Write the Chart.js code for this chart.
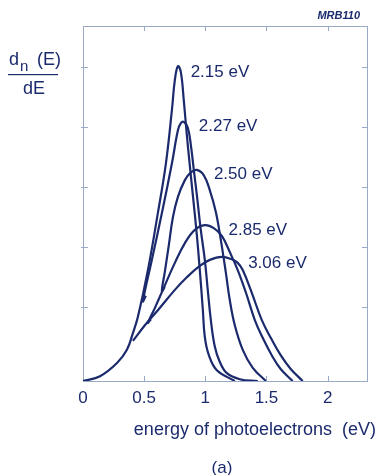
<!DOCTYPE html>
<html>
<head>
<meta charset="utf-8">
<script src="https://cdn.jsdelivr.net/npm/chart.js@4/dist/chart.umd.min.js"></script>
<style>
  html, body { margin: 0; padding: 0; background: #fff; }
  #wrap { width: 379px; height: 475px; position: relative; }
</style>
</head>
<body>
<div id="wrap"><canvas id="chart"></canvas></div>
<script>
// energy (eV) / dn/dE (arb. units)
const curveNames = ['2.15 eV', '2.27 eV', '2.50 eV', '2.85 eV', '3.06 eV'];

const e215 = [0, 0.139, 0.278, 0.359, 0.408, 0.449, 0.531, 0.612, 0.678, 0.727, 0.751, 0.776, 0.80, 0.824, 0.849, 0.873, 0.898, 0.931, 0.955, 0.98, 0.996, 1.029, 1.094, 1.241];
const n215 = [0, 0.08, 0.30, 0.52, 0.80, 1.07, 1.85, 2.80, 3.63, 4.52, 5.02, 5.25, 5.15, 4.68, 4.10, 3.60, 3.10, 2.43, 1.85, 1.18, 0.73, 0.43, 0.18, 0];

const e227 = [0.514, 0.49, 0.563, 0.645, 0.727, 0.776, 0.80, 0.824, 0.857, 0.882, 0.906, 0.931, 0.963, 0.996, 1.02, 1.045, 1.078, 1.118, 1.176, 1.282, 1.429];
const n227 = [1.42, 1.33, 2.02, 2.80, 3.63, 4.18, 4.30, 4.32, 4.22, 3.93, 3.52, 3.10, 2.52, 2.02, 1.52, 1.02, 0.57, 0.32, 0.13, 0.03, 0];

const e250 = [0.669, 0.645, 0.669, 0.702, 0.735, 0.776, 0.833, 0.882, 0.931, 0.988, 1.037, 1.086, 1.127, 1.167, 1.20, 1.241, 1.306, 1.388, 1.494];
const n250 = [1.57, 1.50, 1.82, 2.27, 2.73, 3.07, 3.35, 3.48, 3.52, 3.43, 3.18, 2.82, 2.35, 1.82, 1.35, 0.93, 0.52, 0.22, 0];

const e285 = [0.555, 0.531, 0.588, 0.653, 0.751, 0.833, 0.914, 0.996, 1.069, 1.135, 1.20, 1.265, 1.331, 1.404, 1.469, 1.543, 1.616, 1.714];
const n285 = [1.03, 0.97, 1.22, 1.52, 1.97, 2.30, 2.52, 2.60, 2.55, 2.42, 2.15, 1.85, 1.48, 1.02, 0.72, 0.43, 0.20, 0];

const e306 = [0.408, 0.506, 0.612, 0.751, 0.849, 0.955, 1.037, 1.135, 1.216, 1.265, 1.306, 1.380, 1.461, 1.535, 1.616, 1.698, 1.796];
const n306 = [0.67, 0.93, 1.18, 1.52, 1.73, 1.92, 2.02, 2.07, 2.03, 1.97, 1.85, 1.47, 1.02, 0.72, 0.43, 0.20, 0];

const xTickValues = [0, 0.5, 1, 1.5, 2];
const yTickValues = [1.23, 2.23, 3.23, 4.23, 5.23];

// where the photon-energy labels sit (data coords)
const labelX = [0.88, 0.947, 1.07, 1.19, 1.35];
const labelY = [5.15, 4.25, 3.45, 2.52, 1.97];

const ink = '#1b2a6c';
const axisColor = '#9aa9c6';
const fontFamily = '"Liberation Sans", Arial, Helvetica, sans-serif';

const energies = [e215, e227, e250, e285, e306];
const counts = [n215, n227, n250, n285, n306];

const datasets = curveNames.map((name, i) => ({
  label: name,
  data: energies[i].map((e, k) => ({ x: e, y: counts[i][k] })),
  showLine: true,
  borderColor: ink,
  borderWidth: 2.2,
  pointRadius: 0,
  tension: 0.4,
  fill: false,
}));

// frame with inward ticks, curve labels and the loose texts round the plot
const decorations = {
  id: 'decorations',
  beforeDatasetsDraw(chart) {
    const { ctx, chartArea: a, scales: { x, y } } = chart;
    ctx.save();
    ctx.strokeStyle = axisColor;
    ctx.lineWidth = 1;
    ctx.strokeRect(a.left + 0.5, a.top + 0.5, a.right - a.left - 1, a.bottom - a.top);
    ctx.beginPath();
    xTickValues.slice(1).forEach(v => {
      const px = Math.round(x.getPixelForValue(v)) + 0.5;
      ctx.moveTo(px, a.bottom);
      ctx.lineTo(px, a.bottom - 5);
      ctx.moveTo(px, a.top);
      ctx.lineTo(px, a.top + 5);
    });
    yTickValues.forEach(v => {
      const py = Math.round(y.getPixelForValue(v)) + 0.5;
      ctx.moveTo(a.left - 2, py);
      ctx.lineTo(a.left + 5, py);
      ctx.moveTo(a.right - 6, py);
      ctx.lineTo(a.right, py);
    });
    ctx.stroke();
    ctx.restore();
  },
  afterDraw(chart) {
    const { ctx, scales: { x, y } } = chart;
    ctx.save();
    ctx.fillStyle = ink;
    ctx.textBaseline = 'middle';
    ctx.textAlign = 'left';
    ctx.font = '17px ' + fontFamily;
    curveNames.forEach((name, i) => {
      ctx.fillText(name, x.getPixelForValue(labelX[i]), y.getPixelForValue(labelY[i]));
    });

    // y label as a fraction
    ctx.textBaseline = 'alphabetic';
    ctx.font = '18px ' + fontFamily;
    ctx.fillText('d', 9, 65);
    ctx.font = '15px ' + fontFamily;
    ctx.fillText('n', 20, 71);
    ctx.font = '18px ' + fontFamily;
    ctx.fillText('(E)', 37, 65);
    ctx.fillRect(8, 74, 50, 1.2);
    ctx.textAlign = 'center';
    ctx.fillText('dE', 34, 94);

    // x title, panel letter, figure code
    ctx.textAlign = 'right';
    ctx.font = '18px ' + fontFamily;
    ctx.fillText('energy of photoelectrons  (eV)', 376, 435);
    ctx.textAlign = 'center';
    ctx.font = '17px ' + fontFamily;
    ctx.fillText('(a)', 222, 473);
    ctx.textAlign = 'right';
    ctx.font = 'italic bold 11px ' + fontFamily;
    ctx.fillText('MRB110', 360, 19);
    ctx.restore();
  }
};

new Chart(document.getElementById('chart'), {
  type: 'scatter',
  data: { datasets },
  options: {
    responsive: true,
    maintainAspectRatio: false,
    animation: false,
    layout: { padding: { top: 26, right: 11, left: 0, bottom: 0 } },
    plugins: {
      legend: { display: false },
      tooltip: { enabled: false },
    },
    scales: {
      x: {
        type: 'linear',
        min: 0,
        max: 2.33,
        grid: { display: false, drawTicks: false },
        border: { display: false },
        afterBuildTicks: scale => { scale.ticks = xTickValues.map(v => ({ value: v })); },
        afterFit: scale => { scale.height = 94; },
        ticks: {
          color: ink,
          padding: 7,
          font: { size: 17, family: fontFamily },
          callback: v => String(v),
        },
      },
      y: {
        type: 'linear',
        min: 0,
        max: 5.92,
        grid: { display: false, drawTicks: false },
        border: { display: false },
        afterBuildTicks: scale => { scale.ticks = yTickValues.map(v => ({ value: v })); },
        afterFit: scale => { scale.width = 83; },
        ticks: { display: false },
      },
    },
  },
  plugins: [decorations],
});
</script>
</body>
</html>
